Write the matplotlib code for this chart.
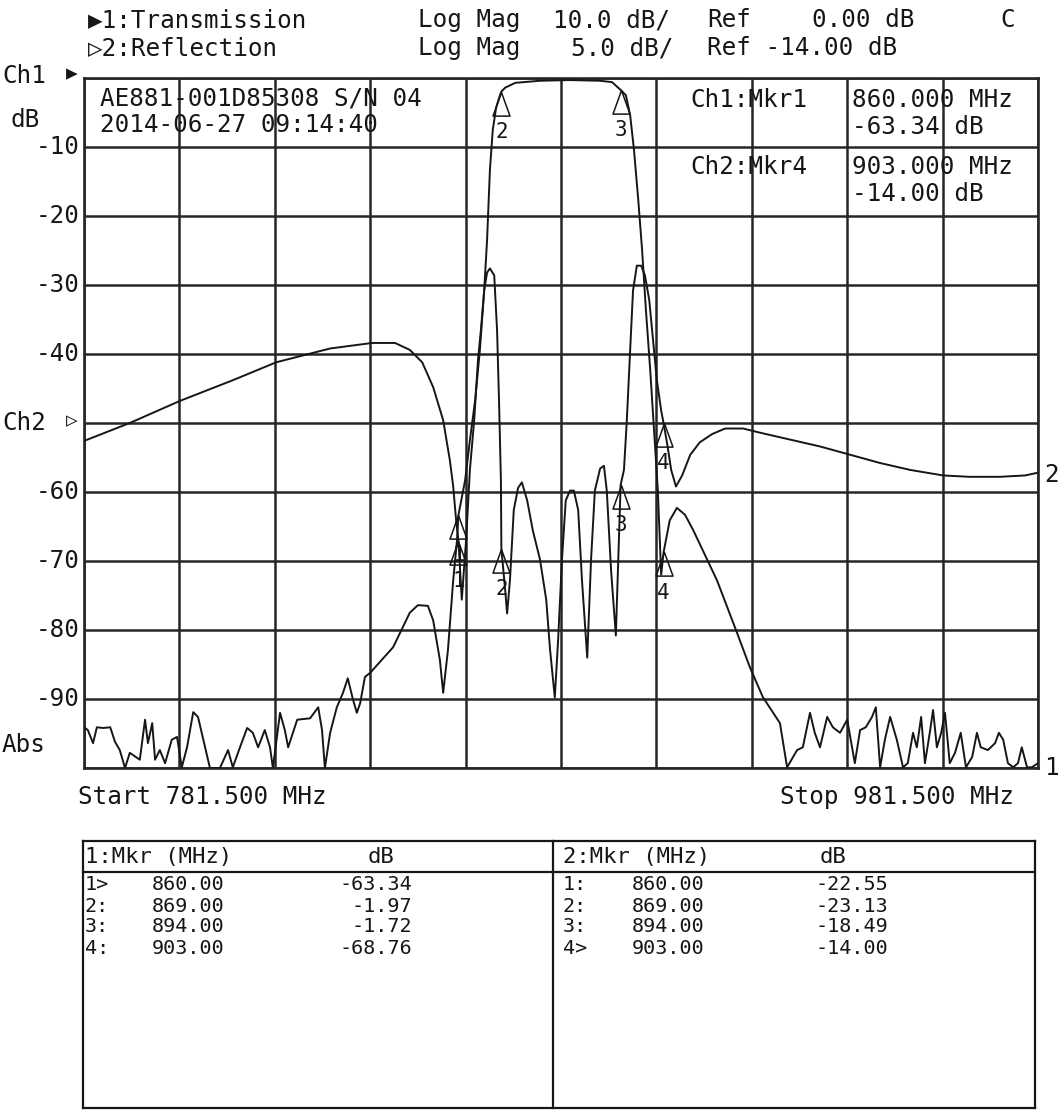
import numpy as np
import matplotlib
matplotlib.use("Agg")
import matplotlib.pyplot as plt

# printer-like monospace text, with a fallback for the triangle glyphs
plt.rcParams['font.family'] = ['DejaVu Sans Mono', 'DejaVu Sans']

# sweep and channel scales
f_start, f_stop = 781.5, 981.5
ch1_ref, ch1_div = 0.0, 10.0      # Ch1 ref sits on the top line
ch2_ref, ch2_div = -14.0, 5.0     # Ch2 ref sits on the middle line

# Ch1 transmission trace (MHz, dB)
trans_freq = [781.5, 782.3, 783.4, 784.2, 785.5, 787.0, 788.0, 789.0, 790.1, 791.1,
              793.2, 794.3, 794.9, 795.8, 796.4, 797.4, 798.5, 799.9, 801.0, 802.0,
              803.1, 804.4, 805.4, 806.9, 807.9, 810.0, 811.7, 812.7, 814.2, 815.7,
              816.9, 818.0, 819.4, 820.5, 821.1, 822.6, 823.6, 824.3, 826.2, 828.9,
              830.6, 831.4, 832.0, 833.1, 834.5, 835.8, 836.8, 837.9, 838.7, 839.4,
              840.4, 841.5, 846.3, 849.8, 851.5, 853.6, 854.7, 856.1, 856.8, 857.8,
              858.9, 859.7, 860.0, 861.4, 862.4, 863.5, 864.5, 865.4, 866.0, 866.6,
              867.2, 867.9, 868.7, 869.0, 869.8, 871.9, 877.1, 883.4, 889.7, 892.2,
              894.0, 895.1, 896.0, 896.8, 897.7, 898.5, 899.3, 900.2, 901.0, 901.8,
              902.5, 903.0, 904.3, 905.8, 907.5, 909.2, 914.2, 918.4, 921.1, 923.8,
              927.4, 928.9, 931.0, 932.2, 933.7, 934.7, 935.8, 937.3, 938.5, 940.0,
              941.5, 943.1, 944.2, 945.4, 946.7, 947.5, 948.4, 949.4, 950.5, 951.9,
              953.2, 954.2, 955.3, 956.1, 957.0, 957.8, 958.9, 959.5, 960.3, 961.2,
              962.0, 963.0, 964.1, 965.3, 966.4, 967.7, 968.7, 969.5, 971.0, 972.5,
              973.3, 974.2, 975.2, 976.3, 977.3, 978.1, 979.2, 980.2, 981.5]
trans_db = [-94.1, -94.5, -96.4, -94.1, -94.2, -94.1, -96.2, -97.4, -100.0, -97.8,
            -98.8, -93.0, -96.4, -93.5, -98.8, -97.4, -99.3, -95.9, -95.5, -99.9,
            -97.0, -91.9, -92.6, -97.0, -100.0, -100.0, -97.4, -99.9, -97.0, -94.2,
            -94.9, -97.0, -94.5, -97.0, -100.0, -92.0, -94.5, -97.0, -93.0, -92.8,
            -91.2, -94.5, -100.0, -94.9, -91.2, -89.1, -87.0, -90.1, -92.0, -90.6,
            -86.8, -86.2, -82.5, -77.5, -76.4, -76.5, -78.6, -84.3, -89.1, -82.9,
            -72.8, -67.0, -63.34, -58.3, -52.5, -46.7, -39.4, -30.7, -23.5, -13.3,
            -7.5, -4.3, -2.5, -1.97, -1.4, -0.7, -0.4, -0.3, -0.4, -0.6,
            -1.72, -2.5, -5.4, -10.4, -17.7, -24.9, -33.6, -42.3, -51.0, -59.7,
            -72.0, -68.76, -64.1, -62.3, -63.3, -65.5, -72.8, -80.4, -85.4, -89.7,
            -93.5, -99.9, -97.4, -97.0, -92.0, -94.9, -97.0, -92.6, -94.1, -94.9,
            -93.0, -99.3, -94.5, -94.1, -92.6, -91.2, -99.9, -95.9, -92.6, -95.9,
            -99.9, -99.3, -94.9, -97.0, -92.6, -99.3, -94.5, -91.6, -97.0, -94.9,
            -92.0, -99.3, -97.8, -94.9, -99.9, -98.4, -94.9, -97.0, -97.4, -96.4,
            -94.9, -95.9, -99.3, -99.9, -99.3, -97.0, -99.9, -99.9, -99.3]

# Ch2 reflection trace (MHz, dB)
refl_freq = [781.5, 791.1, 801.6, 812.7, 821.8, 833.1, 841.9, 846.7, 849.8, 852.4,
             854.7, 856.8, 858.2, 858.9, 859.5, 860.0, 860.7, 861.6, 862.4, 863.3,
             864.1, 864.7, 865.4, 866.0, 866.6, 867.5, 868.1, 868.5, 868.9, 869.0,
             869.8, 870.2, 870.8, 871.6, 872.5, 873.3, 874.4, 875.6, 877.1, 878.4,
             879.2, 880.2, 880.9, 881.7, 882.5, 883.4, 884.2, 885.1, 885.9, 887.0,
             887.8, 888.6, 889.7, 890.5, 891.1, 892.0, 893.0, 893.7, 894.0, 894.7,
             895.3, 896.0, 896.6, 897.4, 898.3, 899.1, 900.0, 900.8, 901.6, 902.5,
             903.0, 903.8, 904.6, 905.6, 906.9, 908.6, 910.6, 913.2, 915.9, 919.7,
             923.2, 929.5, 935.8, 942.1, 948.4, 954.7, 961.6, 967.2, 973.5, 978.8,
             981.5]
refl_db = [-15.3, -14.0, -12.4, -10.9, -9.6, -8.6, -8.2, -8.2, -8.7, -9.6,
           -11.4, -13.8, -16.7, -18.6, -21.0, -22.55, -26.8, -22.5, -17.4, -13.8,
           -9.4, -7.3, -4.4, -3.1, -2.8, -3.3, -7.3, -12.3, -18.1, -23.13,
           -26.1, -27.8, -25.4, -20.3, -18.7, -18.3, -19.6, -21.8, -23.9, -26.8,
           -30.4, -33.9, -29.7, -23.9, -19.6, -18.9, -18.9, -20.3, -25.4, -31.0,
           -23.9, -18.9, -17.3, -17.1, -18.9, -24.7, -29.4, -21.8, -18.49, -17.4,
           -13.8, -8.7, -4.4, -2.6, -2.6, -3.3, -5.1, -8.0, -10.9, -13.1,
           -14.0, -15.6, -17.4, -18.6, -17.8, -16.3, -15.4, -14.8, -14.4, -14.4,
           -14.7, -15.2, -15.7, -16.3, -16.9, -17.4, -17.8, -17.9, -17.9, -17.8,
           -17.6]

# marker table
mkr_ids = ['1', '2', '3', '4']
mkr_freq = [860.00, 869.00, 894.00, 903.00]
mkr_ch1_db = [-63.34, -1.97, -1.72, -68.76]
mkr_ch2_db = [-22.55, -23.13, -18.49, -14.00]
ch1_active, ch2_active = 0, 3

ink = '#161616'
FS = 17.5
W, H = 1058, 1114

fig = plt.figure(figsize=(W / 100, H / 100), dpi=100)
fig.patch.set_facecolor('white')

# main graticule: 10 x 10 divisions
ax = fig.add_axes([84 / W, 1 - 768 / H, 954 / W, 690 / H])
ax.set_xlim(f_start, f_stop)
ax.set_ylim(ch1_ref - 10 * ch1_div, ch1_ref)
ax.set_xticks(np.linspace(f_start, f_stop, 11))
ax.set_yticks(np.arange(ch1_ref - 10 * ch1_div, ch1_ref + 1, ch1_div))
ax.grid(True, color='#262626', lw=1.8)
ax.tick_params(length=0, labelleft=False, labelbottom=False)
for sp in ax.spines.values():
    sp.set_linewidth(1.9)
    sp.set_color('#262626')

# Ch2 uses its own scale on the same grid
ax2 = ax.twinx()
ax2.set_ylim(ch2_ref - 5 * ch2_div, ch2_ref + 5 * ch2_div)
ax2.axis('off')

ax.plot(trans_freq, trans_db, color=ink, lw=1.4, zorder=3)
ax2.plot(refl_freq, refl_db, color=ink, lw=1.4, zorder=3)

# marker triangles, apex on the trace
tri = [(0, 0), (-0.36, -1), (0.36, -1), (0, 0)]
for a, vals in ((ax, mkr_ch1_db), (ax2, mkr_ch2_db)):
    a.plot(mkr_freq, vals, ls='none', marker=tri, ms=34, mfc='none',
           mec=ink, mew=1.1, zorder=4)
    for t, f, d in zip(mkr_ids, mkr_freq, vals):
        a.annotate(t, (f, d), xytext=(0, -29), textcoords='offset points',
                   ha='center', va='center', fontsize=15, color=ink)

# overlay in pixel coordinates for the printed annotations
ov = fig.add_axes([0, 0, 1, 1])
ov.set_xlim(0, W)
ov.set_ylim(H, 0)
ov.axis('off')
ov.patch.set_alpha(0)


def txt(x, y, s, ha='left', fs=FS):
    ov.text(x, y, s, ha=ha, va='center', fontsize=fs, color=ink)


# header
txt(88, 20, '\u25b61:Transmission')
txt(418, 20, 'Log Mag')
txt(553, 20, f'{ch1_div:.1f} dB/')
txt(707, 20, 'Ref')
txt(812, 20, f'{ch1_ref:.2f} dB')
txt(1000, 20, 'C')
txt(88, 48, '\u25b72:Reflection')
txt(418, 48, 'Log Mag')
txt(571, 48, f'{ch2_div:.1f} dB/')
txt(707, 48, f'Ref {ch2_ref:.2f} dB')

# left scale
txt(2, 76, 'Ch1')
txt(66, 74, '\u25b6', fs=14)
txt(10, 120, 'dB')
for k in range(1, 10):
    if k == 5:
        txt(2, 423, 'Ch2')
        txt(66, 421, '\u25b7', fs=14)
    else:
        txt(80, 78 + 69 * k, f'-{10 * k}', ha='right')
txt(2, 745, 'Abs')

# info block inside the grid
txt(100, 98, 'AE881-001D85308 S/N 04')
txt(100, 125, '2014-06-27 09:14:40')
txt(690, 100, f'Ch1:Mkr{mkr_ids[ch1_active]}')
txt(852, 100, f'{mkr_freq[ch1_active]:.3f} MHz')
txt(852, 127, f'{mkr_ch1_db[ch1_active]:.2f} dB')
txt(690, 167, f'Ch2:Mkr{mkr_ids[ch2_active]}')
txt(852, 167, f'{mkr_freq[ch2_active]:.3f} MHz')
txt(852, 194, f'{mkr_ch2_db[ch2_active]:.2f} dB')

# trace end labels
txt(1044, 475, '2')
txt(1044, 768, '1')

# sweep span
txt(78, 797, f'Start {f_start:.3f} MHz')
txt(780, 797, f'Stop {f_stop:.3f} MHz')

# marker table box
lw_t = 1.6
ov.plot([83, 1035], [841, 841], color=ink, lw=lw_t)
ov.plot([83, 1035], [872, 872], color=ink, lw=lw_t)
ov.plot([83, 1035], [1108, 1108], color=ink, lw=lw_t)
ov.plot([83, 83], [841, 1108], color=ink, lw=lw_t)
ov.plot([553, 553], [841, 1108], color=ink, lw=lw_t)
ov.plot([1035, 1035], [841, 1108], color=ink, lw=lw_t)

txt(85, 857, '1:Mkr (MHz)', fs=16)
txt(368, 857, 'dB', fs=16)
txt(563, 857, '2:Mkr (MHz)', fs=16)
txt(820, 857, 'dB', fs=16)
for i, (t, f) in enumerate(zip(mkr_ids, mkr_freq)):
    y = 885 + 21 * i
    txt(85, y, t + ('>' if i == ch1_active else ':'), fs=14.5)
    txt(152, y, f'{f:.2f}', fs=14.5)
    txt(412, y, f'{mkr_ch1_db[i]:.2f}', ha='right', fs=14.5)
    txt(563, y, t + ('>' if i == ch2_active else ':'), fs=14.5)
    txt(632, y, f'{f:.2f}', fs=14.5)
    txt(888, y, f'{mkr_ch2_db[i]:.2f}', ha='right', fs=14.5)

fig.savefig('out.png', dpi=100, facecolor='white')
